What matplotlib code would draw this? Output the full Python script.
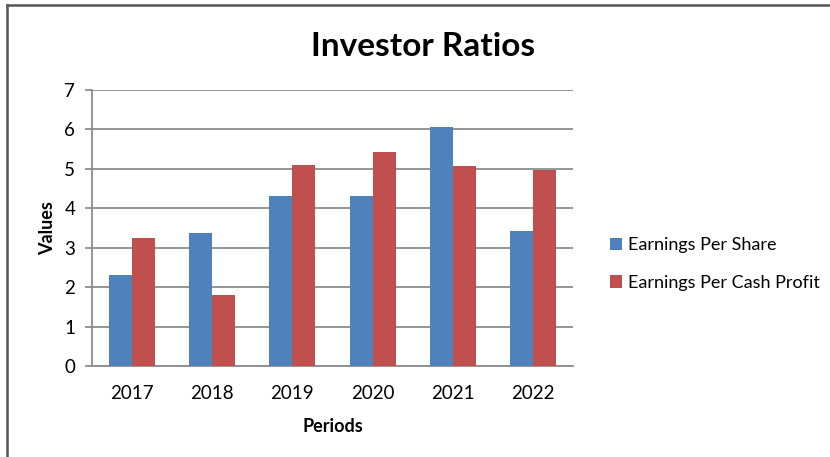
import matplotlib.pyplot as plt
import numpy as np
from matplotlib.lines import Line2D

plt.rcParams['font.family'] = ['Lato', 'DejaVu Sans']

periods = ["2017", "2018", "2019", "2020", "2021", "2022"]
eps = [2.30, 3.37, 4.31, 4.31, 6.05, 3.42]
epcp = [3.24, 1.79, 5.11, 5.43, 5.06, 4.96]

blue = "#4F81BD"
red = "#C0504D"
grid_col = "#8C8C8C"

fig = plt.figure(figsize=(8.3, 4.57), dpi=100)
ax = fig.add_axes([92/830, 1-366/457, (573-92)/830, (366-90)/457])

x = np.arange(len(periods))
w = 0.286
ax.bar(x - w/2, eps, w, color=blue, label="Earnings Per Share", zorder=3)
ax.bar(x + w/2, epcp, w, color=red, label="Earnings Per Cash Profit", zorder=3)

ax.set_xlim(-0.5, len(periods) - 0.5)
ax.set_ylim(0, 7)
ax.set_yticks(range(8))
ax.set_xticks(x)
ax.set_xticklabels(periods)
ax.yaxis.grid(True, color=grid_col, linewidth=1.3, zorder=0)
ax.set_axisbelow(True)

for s in ["top", "right"]:
    ax.spines[s].set_visible(False)
for s in ["left", "bottom"]:
    ax.spines[s].set_color(grid_col)
    ax.spines[s].set_linewidth(1.3)

ax.tick_params(axis="y", length=5, width=1.3, color=grid_col, labelsize=13.5, pad=7)
ax.tick_params(axis="x", length=0, labelsize=13.5, pad=14)

ax.set_xlabel("Periods", fontsize=13, fontweight="bold", labelpad=11)
ax.set_ylabel("Values", fontsize=13, fontweight="bold", labelpad=6)

fig.text(423/830, 1-46/457, "Investor Ratios", fontsize=24, fontweight="bold",
         ha="center", va="center")

fig.legend(loc="center left", bbox_to_anchor=(594/830, 1-264/457), frameon=False,
           fontsize=13, handlelength=0.65, handleheight=0.65, handletextpad=0.35,
           labelspacing=1.2)

# chart border (left and top)
fig.add_artist(Line2D([7/830, 7/830], [0, 1-5/457], color="#555555", linewidth=1.8))
fig.add_artist(Line2D([7/830, 1], [1-5/457, 1-5/457], color="#555555", linewidth=1.8))

fig.savefig("out.png", dpi=100)
